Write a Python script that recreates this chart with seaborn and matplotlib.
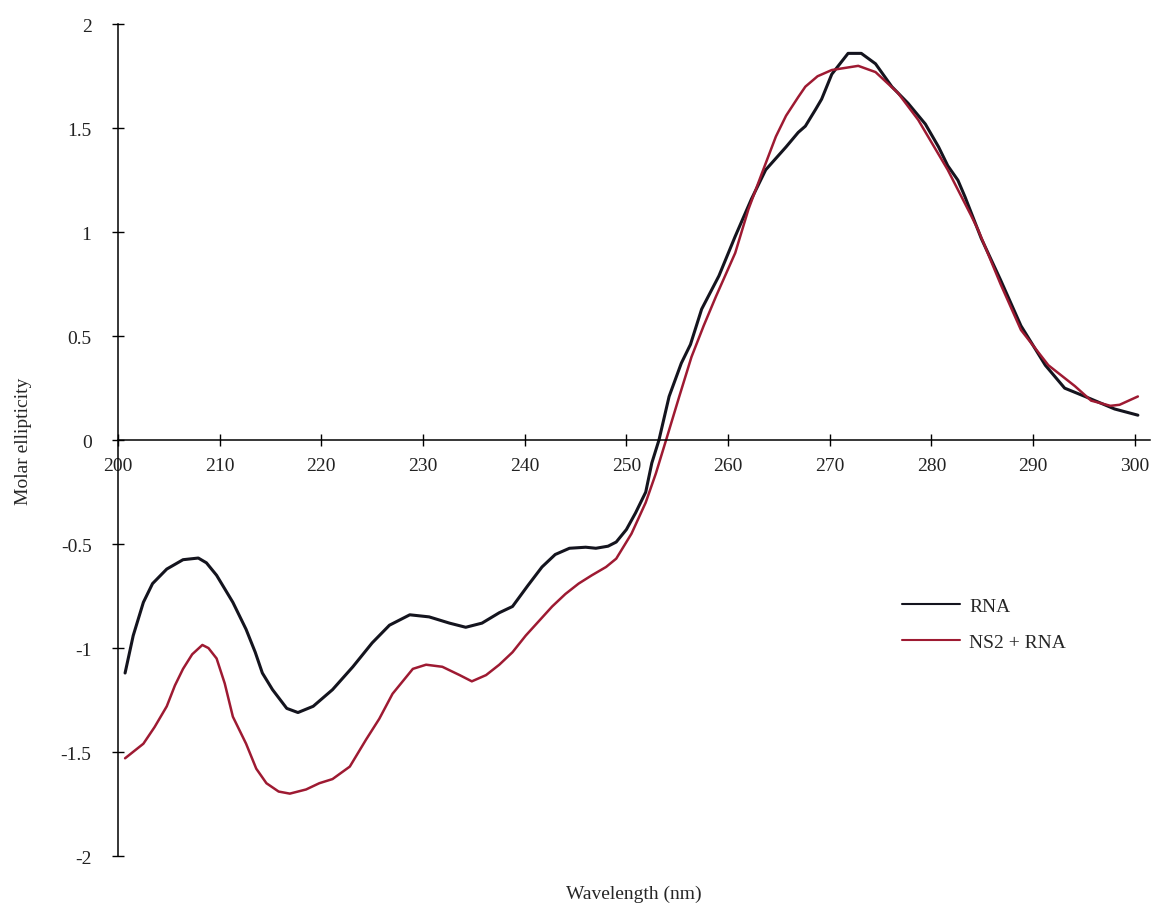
import matplotlib
matplotlib.use("Agg")
import matplotlib.pyplot as plt
import seaborn as sns
import pandas as pd

# CD spectra
rna_wl = [200.7, 201.5, 202.5, 203.4, 204.8, 206.4, 207.9, 208.7, 209.7, 211.3,
          212.6, 213.5, 214.2, 215.2, 216.6, 217.7, 219.2, 221.1, 223.1, 225.0,
          226.7, 228.7, 230.6, 232.6, 234.2, 235.8, 237.5, 238.8, 240.3, 241.7,
          243.0, 244.4, 246.0, 247.0, 248.2, 249.0, 250.0, 250.9, 251.9, 252.5,
          253.2, 254.2, 255.4, 256.3, 257.4, 259.1, 260.7, 262.3, 263.7, 265.7,
          266.9, 267.6, 268.6, 269.2, 270.2, 271.8, 273.1, 274.5, 276.1, 277.7,
          279.4, 280.7, 281.6, 282.6, 283.3, 284.9, 286.8, 288.8, 291.2, 293.1,
          295.1, 298.0, 300.3]
rna_val = [-1.12, -0.94, -0.78, -0.69, -0.62, -0.575, -0.567, -0.59, -0.65, -0.78,
           -0.91, -1.02, -1.12, -1.20, -1.29, -1.31, -1.28, -1.20, -1.09, -0.975,
           -0.89, -0.84, -0.85, -0.88, -0.90, -0.88, -0.83, -0.80, -0.70, -0.61,
           -0.55, -0.52, -0.515, -0.52, -0.51, -0.49, -0.43, -0.35, -0.25, -0.11,
           0.0, 0.21, 0.37, 0.46, 0.63, 0.79, 0.98, 1.16, 1.30, 1.41,
           1.48, 1.51, 1.59, 1.64, 1.76, 1.86, 1.86, 1.81, 1.70, 1.62,
           1.52, 1.41, 1.32, 1.25, 1.17, 0.97, 0.77, 0.55, 0.36, 0.25,
           0.21, 0.15, 0.12]

ns2_wl = [200.7, 202.5, 203.6, 204.8, 205.6, 206.4, 207.3, 208.3, 208.9, 209.7,
          210.5, 211.3, 212.6, 213.6, 214.6, 215.8, 216.9, 218.5, 219.8, 221.1,
          222.8, 224.4, 225.7, 227.0, 229.0, 230.3, 231.9, 233.6, 234.8, 236.2,
          237.5, 238.8, 240.1, 241.4, 242.7, 244.0, 245.3, 246.6, 248.0, 249.0,
          250.5, 251.9, 252.9, 253.9, 255.2, 256.4, 257.6, 258.8, 260.7, 262.0,
          263.3, 264.7, 265.7, 266.9, 267.6, 268.8, 270.2, 272.8, 274.5, 276.7,
          278.7, 281.6, 283.9, 284.6, 286.8, 288.8, 291.5, 294.1, 295.7, 297.6,
          298.5, 300.3]
ns2_val = [-1.53, -1.46, -1.38, -1.28, -1.18, -1.10, -1.03, -0.985, -1.00, -1.05,
           -1.17, -1.33, -1.46, -1.58, -1.65, -1.69, -1.70, -1.68, -1.65, -1.63,
           -1.57, -1.44, -1.34, -1.22, -1.10, -1.08, -1.09, -1.13, -1.16, -1.13,
           -1.08, -1.02, -0.94, -0.87, -0.80, -0.74, -0.69, -0.65, -0.61, -0.57,
           -0.45, -0.30, -0.16, 0.0, 0.21, 0.40, 0.55, 0.69, 0.90, 1.11,
           1.28, 1.46, 1.56, 1.65, 1.70, 1.75, 1.78, 1.80, 1.77, 1.67,
           1.54, 1.30, 1.08, 1.01, 0.75, 0.53, 0.36, 0.26, 0.19, 0.165,
           0.17, 0.21]

x_ticks = [200, 210, 220, 230, 240, 250, 260, 270, 280, 290, 300]
y_ticks = [-2, -1.5, -1, -0.5, 0, 0.5, 1, 1.5, 2]
y_tick_labels = ["-2", "-1.5", "-1", "-0.5", "0", "0.5", "1", "1.5", "2"]

df = pd.concat([
    pd.DataFrame({"wl": rna_wl, "val": rna_val, "sample": "RNA"}),
    pd.DataFrame({"wl": ns2_wl, "val": ns2_val, "sample": "NS2 + RNA"}),
])

sns.set_style("white")
plt.rcParams["font.family"] = ["Liberation Serif", "DejaVu Serif"]
plt.rcParams["axes.unicode_minus"] = False

fig = plt.figure(figsize=(11.61, 9.12), dpi=100)
ax = fig.add_axes([0.1016, 0.0603, 0.889, 0.912])

sns.lineplot(data=df, x="wl", y="val", hue="sample", sort=False,
             estimator=None, palette={"RNA": "#14141e", "NS2 + RNA": "#9e1a32"},
             ax=ax)
for line, lw in zip(ax.lines, [2.2, 1.8]):
    line.set_linewidth(lw)

ax.set_xlim(200, 301.5)
ax.set_ylim(-2, 2)
ax.spines["left"].set_position(("data", 200))
ax.spines["bottom"].set_position(("data", 0))
ax.spines["top"].set_visible(False)
ax.spines["right"].set_visible(False)
for s in ["left", "bottom"]:
    ax.spines[s].set_linewidth(1.1)
    ax.spines[s].set_color("black")

ax.set_xticks(x_ticks)
ax.set_xticklabels([str(t) for t in x_ticks])
ax.set_yticks(y_ticks)
ax.set_yticklabels(y_tick_labels)
ax.tick_params(axis="both", which="major", bottom=True, left=True,
               direction="inout", length=8, width=1.0,
               color="black", labelsize=14, labelcolor="#222222")
ax.tick_params(axis="y", pad=15)
ax.tick_params(axis="x", pad=8)

ax.set_xlabel("Wavelength (nm)", fontsize=14)
ax.xaxis.set_label_coords(0.5, -0.035)
ax.set_ylabel("Molar ellipticity", fontsize=14)
ax.yaxis.set_label_coords(-0.083, 0.5)

handles, labels = ax.get_legend_handles_labels()
ax.legend(handles, labels, loc="upper left",
          bbox_to_anchor=(0.777, 0.344), bbox_transform=fig.transFigure,
          frameon=False, fontsize=14, handlelength=3.0, handletextpad=0.45,
          labelspacing=0.95, borderpad=0, borderaxespad=0)

fig.savefig("out.png", dpi=100)
plt.close(fig)
